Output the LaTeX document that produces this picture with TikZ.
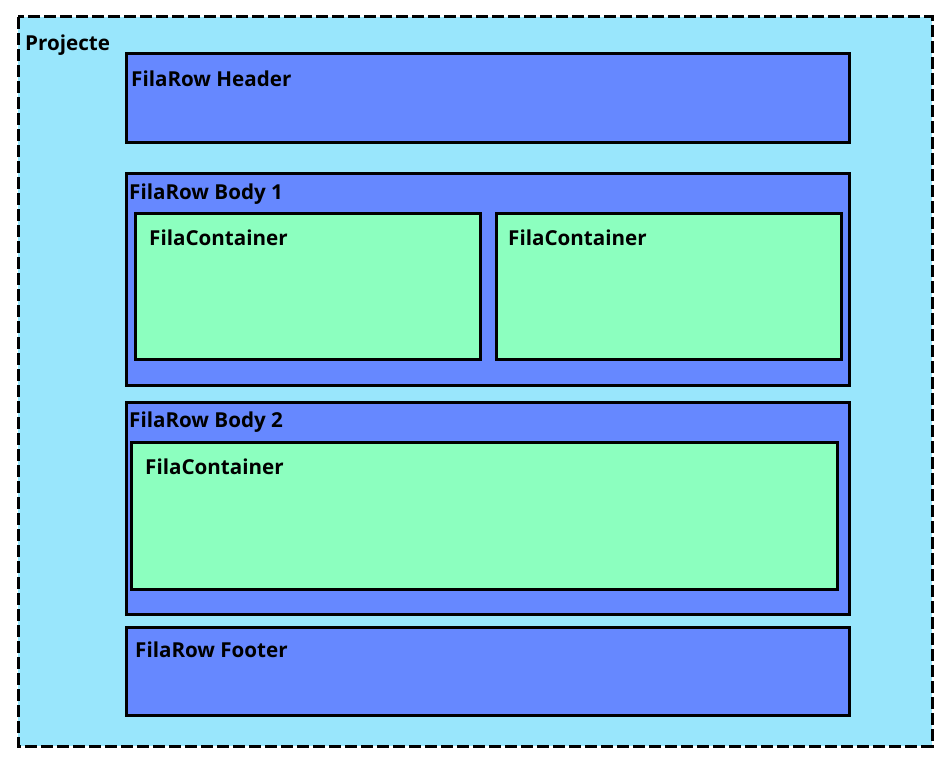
\documentclass[tikz,border=0pt]{standalone}
\usepackage{fontspec}
\setmainfont{Open Sans}[BoldFont={Open Sans Bold}]
\definecolor{projfill}{HTML}{99E6FC}
\definecolor{rowfill}{HTML}{6688FF}
\definecolor{contfill}{HTML}{8CFFBF}
\begin{document}
\begin{tikzpicture}[x=1pt,y=-1pt,
    proj/.style={draw=black,line width=3pt,dash pattern=on 12pt off 4pt,fill=projfill},
    row/.style={draw=black,line width=3pt,fill=rowfill},
    cont/.style={draw=black,line width=3pt,fill=contfill},
    lbl/.style={anchor=west,inner sep=0pt,font=\fontsize{20.6}{24}\selectfont\bfseries}]
        \useasboundingbox (0,0) rectangle (948,768);
        \draw[proj] (18,17) rectangle (932,746);
        \node[lbl] (projecte) at (25,45) {Projecte};
        % header
        \draw[row] (126,54) rectangle (849,142);
        \node[lbl] (header) at (131,79) {FilaRow Header};
        % body 1
        \draw[row] (126,173) rectangle (849,385);
        \node[lbl] (body1) at (129,194) {FilaRow Body 1};
        \draw[cont] (135,213) rectangle (480,359);
        \node[lbl] (cont1) at (149,238) {FilaContainer};
        \draw[cont] (496,213) rectangle (841,359);
        \node[lbl] (cont2) at (508,238) {FilaContainer};
        % body 2
        \draw[row] (126,402) rectangle (849,614);
        \node[lbl] (body2) at (129,422) {FilaRow Body 2};
        \draw[cont] (131,442) rectangle (837,589);
        \node[lbl] (cont3) at (145,467) {FilaContainer};
        % footer
        \draw[row] (126,627) rectangle (849,715);
        \node[lbl] (footer) at (135,650) {FilaRow Footer};
    \end{tikzpicture}
\end{document}
